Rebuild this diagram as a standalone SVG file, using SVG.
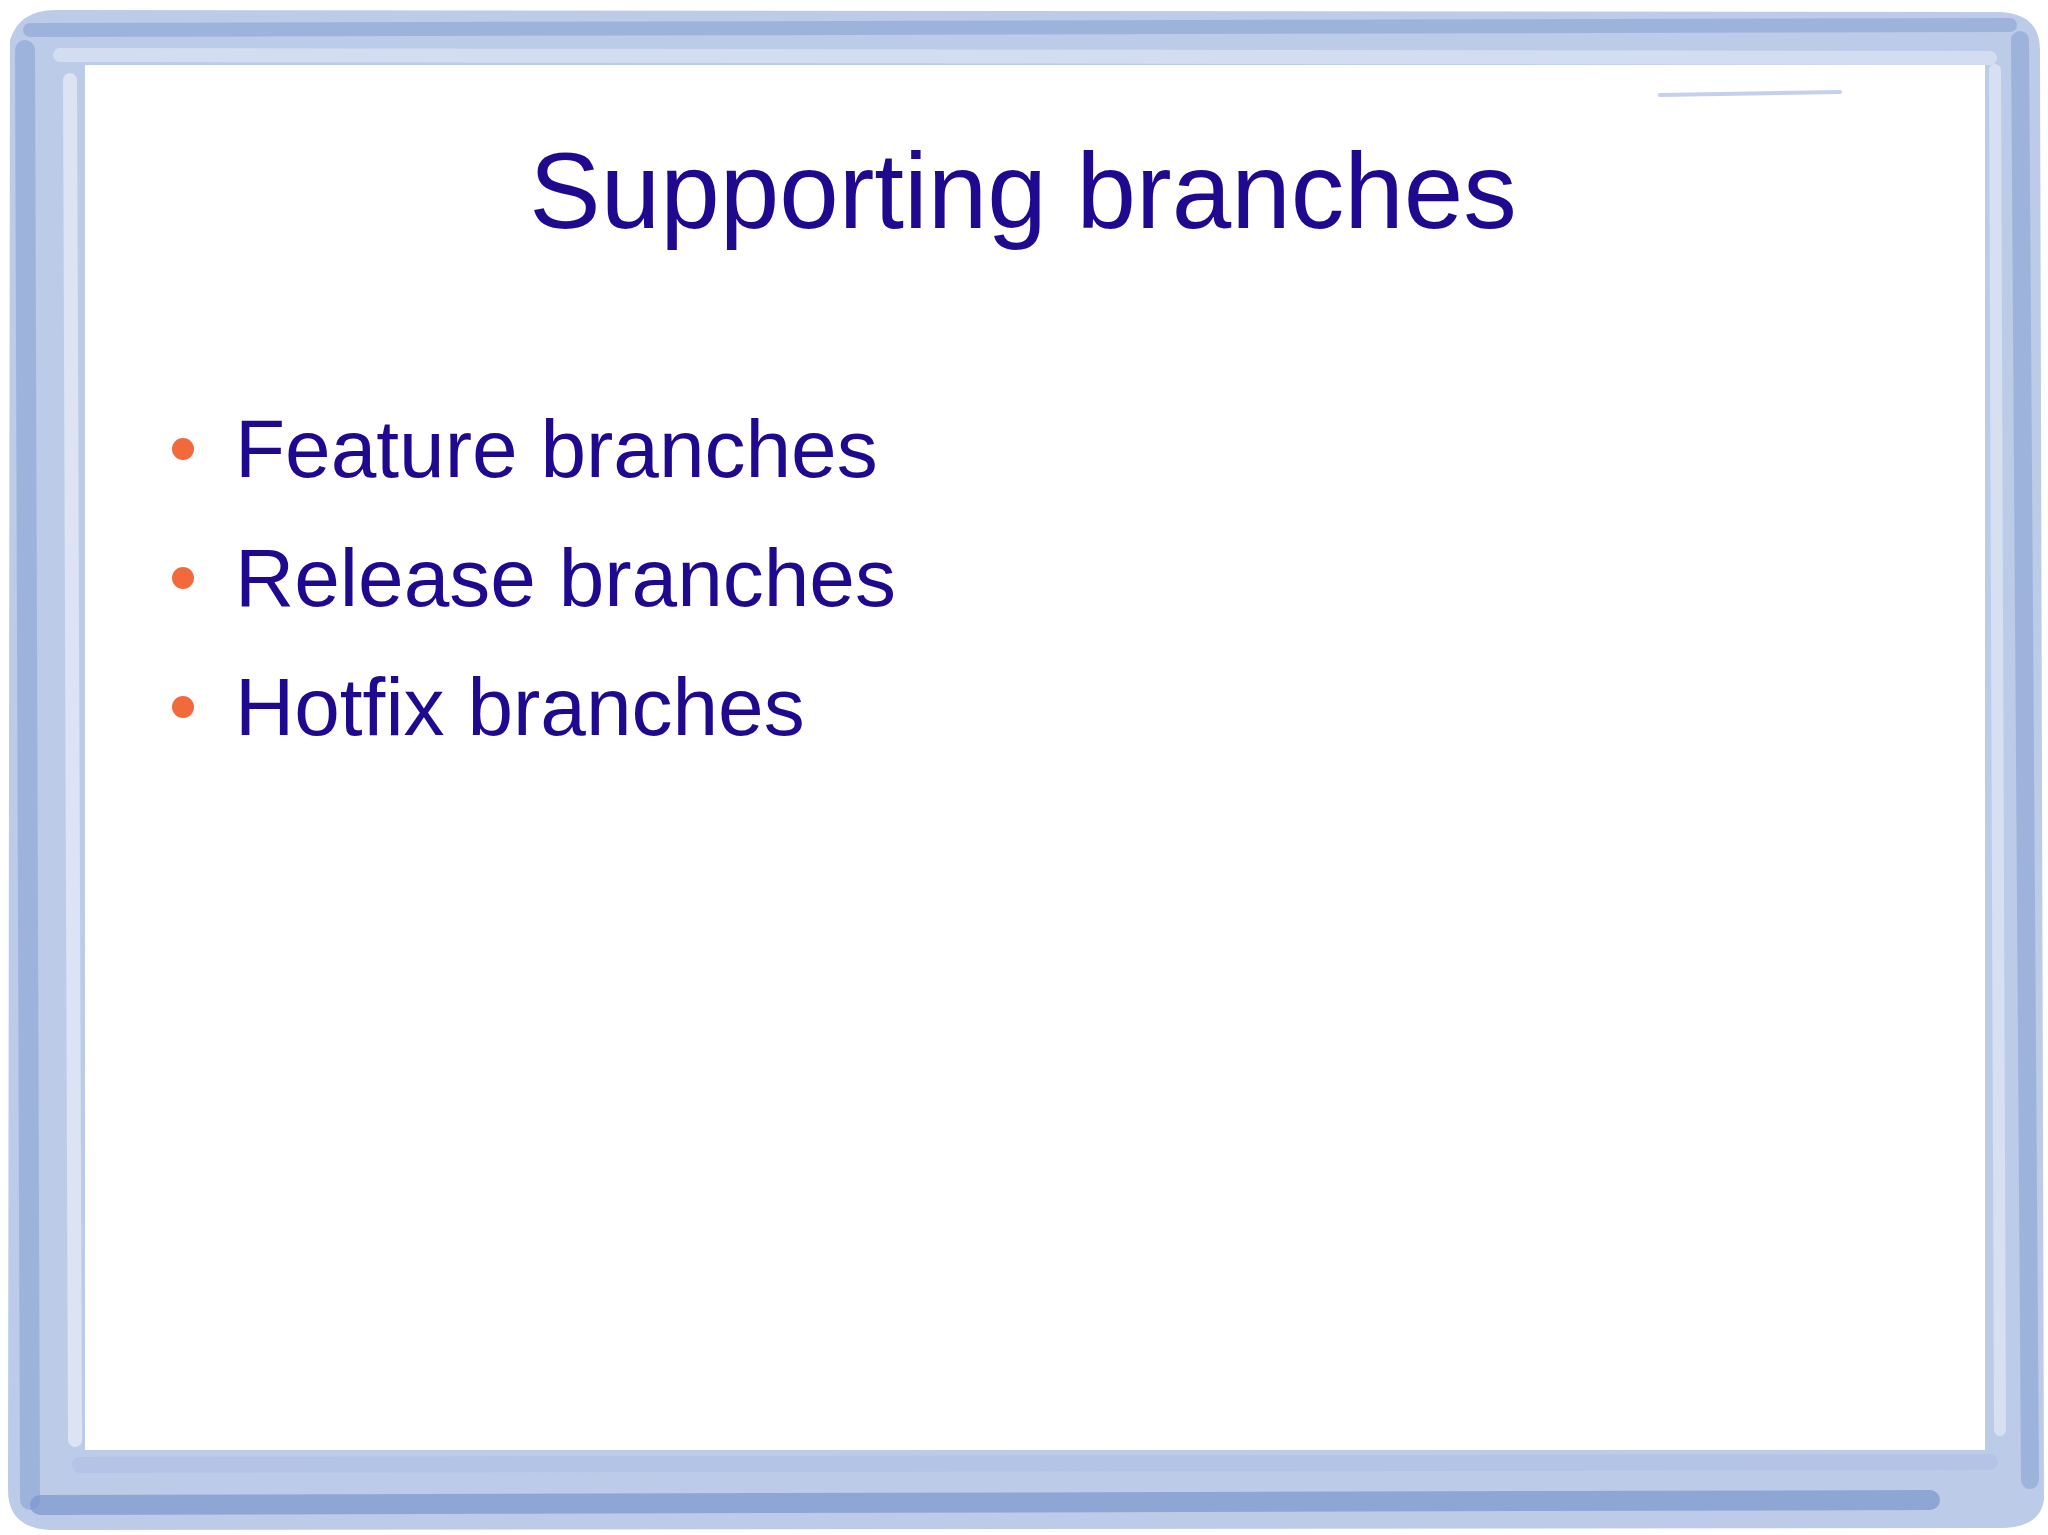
<svg xmlns="http://www.w3.org/2000/svg" width="2048" height="1535" viewBox="0 0 2048 1535">
<style>
.t{font-family:"Liberation Sans",Arial,sans-serif;fill:#1f0a8f}
.b{fill:#f26a3c}
.s{fill:none;stroke-linecap:round}
</style>
<rect width="2048" height="1535" fill="#fff"/>
<g id="frame">
<path d="M10 40 Q20 8 60 10 L2000 12 Q2040 14 2040 50 L2044 1500 Q2040 1528 2000 1528 L50 1530 Q8 1528 8 1490 Z M85 65 L85 1450 L1985 1450 L1985 65 Z" fill="#bccbe8" fill-rule="evenodd"/>
<path class="s" d="M30 30 L2010 25" stroke="#8aa3d4" stroke-width="14" opacity="0.6"/>
<path class="s" d="M60 55 L1990 58" stroke="#d3ddf1" stroke-width="14"/>
<path class="s" d="M25 50 L30 1500" stroke="#8aa3d4" stroke-width="20" opacity="0.6"/>
<path class="s" d="M70 80 L75 1440" stroke="#dbe3f4" stroke-width="14"/>
<path class="s" d="M2020 40 L2030 1480" stroke="#8aa3d4" stroke-width="18" opacity="0.6"/>
<path class="s" d="M1995 70 L2000 1430" stroke="#d6e0f2" stroke-width="12"/>
<path class="s" d="M40 1505 L1930 1500" stroke="#7a95cc" stroke-width="20" opacity="0.7"/>
<path class="s" d="M80 1465 L1990 1462" stroke="#b3c4e6" stroke-width="16"/>
<path class="s" d="M1660 95 L1840 92" stroke="#c3d1ec" stroke-width="4"/>
</g>
<g id="title"><text class="t" x="1023" y="228" font-size="107" text-anchor="middle">Supporting branches</text></g>
<g id="bullets">
<circle class="b" cx="183" cy="449" r="11"/>
<circle class="b" cx="183" cy="578" r="11"/>
<circle class="b" cx="183" cy="707" r="11"/>
<text class="t" x="235" y="477" font-size="82">Feature branches</text>
<text class="t" x="235" y="606" font-size="82">Release branches</text>
<text class="t" x="235" y="735" font-size="82">Hotfix branches</text>
</g>
</svg>
